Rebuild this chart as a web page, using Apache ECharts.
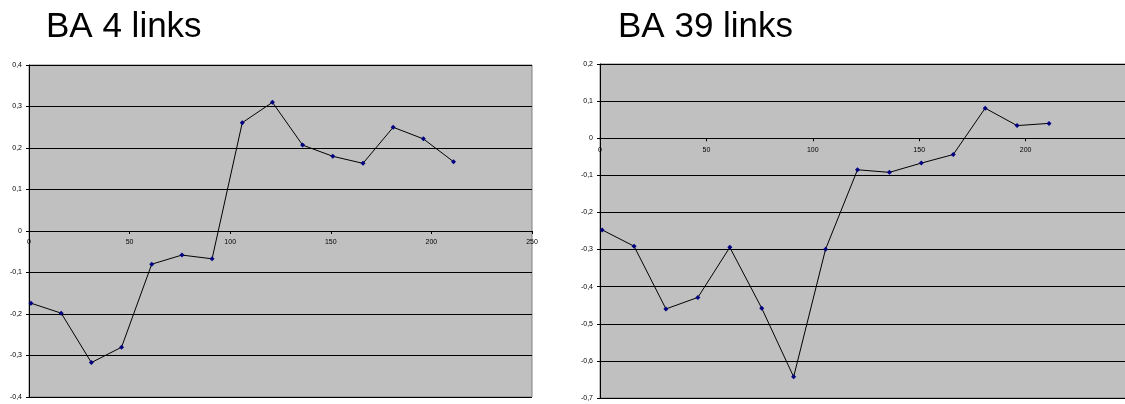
<!DOCTYPE html>
<html>
<head>
<meta charset="utf-8">
<script src="https://cdn.jsdelivr.net/npm/echarts@6/dist/echarts.min.js"></script>
<style>
html,body{margin:0;padding:0;background:#fff;}
#c{width:1125px;height:404px;}
</style>
</head>
<body>
<div id="c"></div>
<script>
const titles = ['BA 4 links', 'BA 39 links'];
const xValues = [1, 16, 31, 46, 61, 76, 91, 106, 121, 136, 151, 166, 181, 196, 211];
const ba4Values = [-0.174, -0.198, -0.317, -0.280, -0.080, -0.058, -0.067, 0.261, 0.310, 0.207, 0.180, 0.163, 0.250, 0.222, 0.167];
const ba39Values = [-0.247, -0.291, -0.460, -0.429, -0.294, -0.458, -0.643, -0.299, -0.085, -0.092, -0.067, -0.044, 0.081, 0.034, 0.040];
const leftYRange = [-0.4, 0.4];
const rightYRange = [-0.7, 0.2];
const xRange = [0, 250];

const FONT = '"Liberation Sans", Arial, sans-serif';
const grids = [
  { left: 29, top: 65, width: 503, height: 332 },
  { left: 600, top: 64, width: 532, height: 334 }
];
const yRanges = [leftYRange, rightYRange];

function pairs(xs, ys) { return xs.map((x, i) => [x, ys[i]]); }
function yFmt(v) {
  if (Math.abs(v) < 1e-9) return '0';
  return v.toFixed(1).replace('.', ',');
}
function zeroOffset(gi) {
  const r = yRanges[gi];
  return -grids[gi].height * (0 - r[0]) / (r[1] - r[0]);
}
function xAxisCfg(gi) {
  return {
    type: 'value', gridIndex: gi, min: xRange[0], max: xRange[1], interval: 50,
    position: 'bottom', offset: zeroOffset(gi),
    axisLine: { onZero: false, lineStyle: { color: '#000', width: 1 } },
    axisTick: { show: true, length: 3, inside: false, lineStyle: { color: '#000' } },
    axisLabel: { fontSize: 7, color: '#000', fontFamily: FONT, margin: 8 },
    splitLine: { show: false }
  };
}
function yAxisCfg(gi) {
  const r = yRanges[gi];
  return {
    type: 'value', gridIndex: gi, min: r[0], max: r[1], interval: 0.1,
    axisLine: { show: true, onZero: false, lineStyle: { color: '#000', width: 1 } },
    axisTick: { show: true, length: 3, lineStyle: { color: '#000' } },
    axisLabel: { fontSize: 7, color: '#000', fontFamily: FONT, margin: 7, formatter: yFmt },
    splitLine: { show: true, lineStyle: { color: '#000', width: 1 } }
  };
}
function seriesCfg(gi, ys) {
  return {
    type: 'line', xAxisIndex: gi, yAxisIndex: gi,
    data: pairs(xValues, ys),
    lineStyle: { color: '#000', width: 1 },
    itemStyle: { color: '#000080' },
    symbol: 'diamond', symbolSize: 5, showSymbol: true,
    animation: false
  };
}
const chart = echarts.init(document.getElementById('c'));
chart.setOption({
  animation: false,
  title: [
    { text: titles[0], left: 41, top: 5, textStyle: { fontSize: 35, fontWeight: 'normal', color: '#000', fontFamily: FONT } },
    { text: titles[1], left: 613, top: 5, textStyle: { fontSize: 35, fontWeight: 'normal', color: '#000', fontFamily: FONT } }
  ],
  grid: grids.map(g => Object.assign({ show: true, backgroundColor: '#c0c0c0', borderColor: '#808080', borderWidth: 1, containLabel: false, outerBoundsMode: 'none' }, g)),
  xAxis: [xAxisCfg(0), xAxisCfg(1)],
  yAxis: [yAxisCfg(0), yAxisCfg(1)],
  series: [seriesCfg(0, ba4Values), seriesCfg(1, ba39Values)]
});
</script>
</body>
</html>
